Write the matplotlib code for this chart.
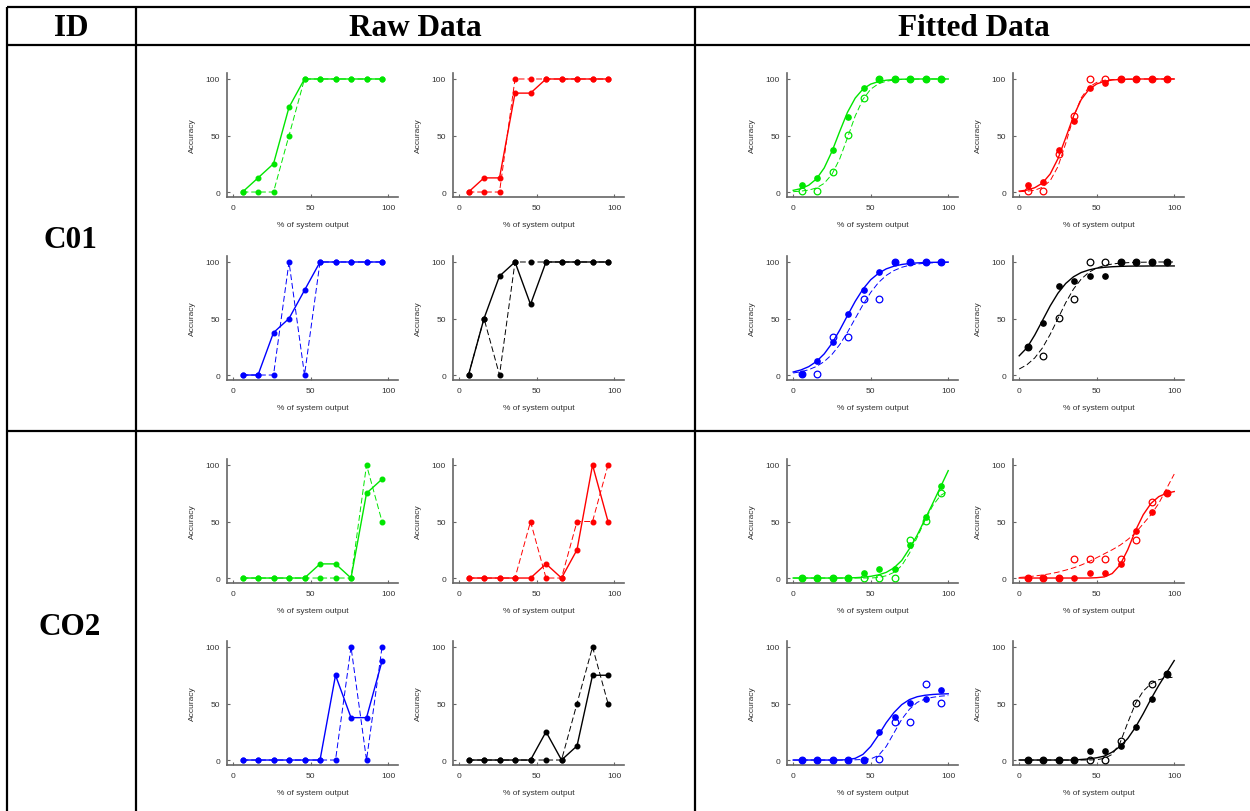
import matplotlib.pyplot as plt

plt.rcParams['font.family'] = ['Liberation Sans', 'DejaVu Sans']

# x positions (% of system output)
raw_x = [6, 16, 26, 36, 46, 56, 66, 76, 86, 96]
fit_x = [5.5, 15.5, 25.5, 35.5, 45.5, 55.5, 65.5, 75.5, 85.5, 95.5]
curve_x = [0, 5, 10, 15, 20, 25, 30, 35, 40, 45, 50, 55, 60, 65, 70, 75, 80, 85, 90, 95, 100]

# ---- C01 raw data ----
c01_green_solid = [0, 12.5, 25, 75, 100, 100, 100, 100, 100, 100]
c01_green_dash = [0, 0, 0, 50, 100, 100, 100, 100, 100, 100]
c01_red_solid = [0, 12.5, 12.5, 87.5, 87.5, 100, 100, 100, 100, 100]
c01_red_dash = [0, 0, 0, 100, 100, 100, 100, 100, 100, 100]
c01_blue_solid = [0, 0, 37.5, 50, 75, 100, 100, 100, 100, 100]
c01_blue_dash = [0, 0, 0, 100, 0, 100, 100, 100, 100, 100]
c01_black_solid = [0, 50, 87.5, 100, 62.5, 100, 100, 100, 100, 100]
c01_black_dash = [0, 50, 0, 100, 100, 100, 100, 100, 100, 100]

# ---- CO2 raw data ----
co2_green_solid = [0, 0, 0, 0, 0, 12.5, 12.5, 0, 75, 87.5]
co2_green_dash = [0, 0, 0, 0, 0, 0, 0, 0, 100, 50]
co2_red_solid = [0, 0, 0, 0, 0, 12.5, 0, 25, 100, 50]
co2_red_dash = [0, 0, 0, 0, 50, 0, 0, 50, 50, 100]
co2_blue_solid = [0, 0, 0, 0, 0, 0, 75, 37.5, 37.5, 87.5]
co2_blue_dash = [0, 0, 0, 0, 0, 0, 0, 100, 0, 100]
co2_black_solid = [0, 0, 0, 0, 0, 25, 0, 12.5, 75, 75]
co2_black_dash = [0, 0, 0, 0, 0, 0, 0, 50, 100, 50]

# ---- C01 fitted: points ----
c01_green_filled = [6.5, 12.6, 37.6, 66.8, 91.8, 100, 100, 100, 100, 100]
c01_green_open = [0.6, 0.6, 17.4, 50.6, 83.5, 100, 100, 100, 100, 100]
c01_red_filled = [6.5, 8.8, 37.6, 62.6, 91.8, 96.2, 100, 100, 100, 100]
c01_red_open = [0.6, 0.6, 34, 67, 100, 100, 100, 100, 100, 100]
c01_blue_filled = [0.6, 12.5, 29, 54, 74.8, 91.4, 100, 100, 100, 100]
c01_blue_open = [0.6, 0.6, 33.8, 33.8, 67, 67, 100, 100, 100, 100]
c01_black_filled = [25.2, 45.7, 79, 83, 87.2, 87.2, 100, 100, 100, 100]
c01_black_open = [25.2, 17.2, 50.4, 67, 100, 100, 100, 100, 100, 100]

# ---- C01 fitted: curves ----
c01_green_fit_s = [1.5, 3.0, 6.0, 11.6, 21.3, 35.9, 53.6, 70.5, 83.1, 91.1, 95.5, 97.7, 98.9, 99.5, 99.8, 99.9, 100, 100, 100, 100, 100]
c01_green_fit_d = [0.3, 0.8, 1.7, 3.6, 7.7, 15.7, 29.3, 48, 67.3, 82, 91, 95.8, 98, 99.1, 99.6, 99.8, 99.9, 100, 100, 100, 100]
c01_red_fit_s = [0.8, 1.7, 3.8, 7.9, 16, 29.5, 48, 67, 81.8, 90.8, 95.6, 98, 99.1, 99.6, 99.8, 99.9, 100, 100, 100, 100, 100]
c01_red_fit_d = [0.3, 0.7, 1.6, 4.2, 10, 22.5, 43, 66, 83.3, 92.9, 97, 98.9, 99.5, 99.8, 99.9, 100, 100, 100, 100, 100, 100]
c01_blue_fit_s = [2.7, 4.5, 7.4, 12, 18.7, 28, 39.7, 52.6, 65.2, 76, 84.3, 90, 93.9, 96.3, 97.8, 98.7, 99.2, 99.5, 99.7, 99.8, 99.9]
c01_blue_fit_d = [1.8, 2.9, 4.7, 7.6, 11.9, 18.2, 26.9, 37.8, 50, 62.2, 73.1, 81.8, 88.1, 92.4, 95.3, 97.1, 98.2, 98.9, 99.3, 99.6, 99.8]
c01_black_fit_s = [17, 24.1, 35.3, 48.2, 61.2, 72.4, 81, 86.9, 90.7, 93, 94.5, 95.3, 95.8, 96.1, 96.3, 96.4, 96.4, 96.5, 96.5, 96.5, 96.5]
c01_black_fit_d = [5.3, 9.1, 15.1, 24, 36, 50, 64, 76, 84.9, 90.9, 94.7, 96.9, 98.2, 99, 99.4, 99.7, 99.8, 99.9, 100, 100, 100]

# ---- CO2 fitted: points ----
co2_green_filled = [0, 0, 0, 0, 4.1, 8.3, 8.3, 29, 54, 81.4]
co2_green_open = [0, 0, 0, 0, 0, 0, 0, 34, 50.3, 75.4]
co2_red_filled = [0, 0, 0, 0, 4.1, 4.1, 12.4, 42, 58.6, 75.4]
co2_red_open = [0, 0, 0, 16.9, 16.9, 16.9, 16.9, 34, 67.2, 75.4]
co2_blue_filled = [0, 0, 0, 0, 0, 25.2, 37.7, 50.4, 54.3, 62.3]
co2_blue_open = [0, 0, 0, 0, 0, 0.6, 33.5, 33.5, 67.4, 50.4]
co2_black_filled = [0, 0, 0, 0, 8.3, 8.3, 12.5, 29, 54.3, 75.7]
co2_black_open = [0, 0, 0, 0, 0, 0, 17, 50.4, 67.4, 75.7]

# ---- CO2 fitted: curves ----
co2_green_fit_s = [0, 0, 0, 0, 0, 0, 0, 0.1, 0.3, 0.7, 1.5, 2.8, 5, 9, 15.5, 26, 38, 52, 66, 80.5, 95]
co2_green_fit_d = [0, 0, 0, 0, 0, 0, 0, 0, 0, 0, 0, 0.5, 2, 5, 11, 22, 36, 51, 64, 73, 77]
co2_red_fit_s = [0, 0, 0, 0, 0, 0, 0, 0, 0, 0, 0.3, 1, 4, 11.5, 25, 42, 56, 66, 72, 75, 76.5]
co2_red_fit_d = [0.5, 1, 1.8, 2.7, 3.8, 5.2, 7, 9, 11.5, 14.5, 18, 21.5, 25, 29, 34, 40, 48, 56, 66, 79, 92]
co2_blue_fit_s = [0, 0, 0, 0, 0, 0, 0, 0.3, 1.5, 5, 12, 22, 33, 42, 49, 53.5, 56, 57.3, 58, 58.4, 58.6]
co2_blue_fit_d = [0, 0, 0, 0, 0, 0, 0, 0, 0.2, 0.5, 1, 4, 12, 24, 36, 45, 51, 54, 55.5, 56.5, 57]
co2_black_fit_s = [0, 0, 0, 0, 0, 0, 0, 0, 0.5, 1, 2, 3.5, 7, 12, 19, 29, 41, 54, 66, 77, 88]
co2_black_fit_d = [0, 0, 0, 0, 0, 0, 0, 0, 0, 0, 0.3, 1.5, 5, 15, 33, 50, 61, 67.5, 71, 72.7, 73.3]

GREEN = '#00e600'
RED = '#ff0000'
BLUE = '#0000ff'
BLACK = '#000000'

W, H = 1250, 812
fig = plt.figure(figsize=(12.5, 8.12), dpi=100)

# table background in pixel coordinates
bg = fig.add_axes([0, 0, 1, 1], zorder=0)
bg.set_xlim(0, W)
bg.set_ylim(H, 0)
bg.axis('off')
lw_tab = 1.6
for y in [8.3, 45.7, 431.7]:
    bg.plot([7.3, W], [y, y], color='black', lw=lw_tab, solid_capstyle='butt')
for x in [7.3, 136, 695]:
    bg.plot([x, x], [8.3, H], color='black', lw=lw_tab, solid_capstyle='butt')

head = dict(family='Liberation Serif', fontweight='bold', fontsize=22.5,
            ha='center', va='center')
bg.text(71, 28, 'ID', **head)
bg.text(415, 28, 'Raw Data', **head)
bg.text(974, 28, 'Fitted Data', **head)
bg.text(70, 240, 'C01', **head)
bg.text(70, 628, 'CO2', **head)


def small_axes(left, bottom):
    ax = fig.add_axes([left / W, (H - bottom) / H, 171 / W, 124 / H], zorder=2)
    ax.patch.set_alpha(0)
    ax.set_xlim(-4, 106.3)
    ax.set_ylim(-4.4, 105.3)
    for s in ['top', 'right']:
        ax.spines[s].set_visible(False)
    for s in ['left', 'bottom']:
        ax.spines[s].set_color('#666666')
        ax.spines[s].set_linewidth(1.2)
    ax.set_xticks([0, 50, 100])
    ax.set_yticks([0, 50, 100])
    ax.tick_params(labelsize=6, labelcolor='#333333', color='#666666',
                   length=2, width=0.8, direction='in', pad=5)
    ax.set_xlabel('% of system output', fontsize=6, color='#333333', labelpad=7)
    ax.set_ylabel('Accuracy', fontsize=6, color='#333333', labelpad=7)
    return ax


def raw_panel(left, bottom, solid, dash, c):
    ax = small_axes(left, bottom)
    ax.plot(raw_x, dash, color=c, lw=0.7, dashes=(6, 3), marker='o', ms=3.3,
            clip_on=False, zorder=3)
    ax.plot(raw_x, solid, color=c, lw=1.0, marker='o', ms=3.3,
            clip_on=False, zorder=4)


def fit_panel(left, bottom, filled, opened, cs, cd, c):
    ax = small_axes(left, bottom)
    ax.plot(curve_x, cd, color=c, lw=0.7, dashes=(6, 3), zorder=3)
    ax.plot(curve_x, cs, color=c, lw=1.0, zorder=3)
    ax.plot(fit_x, opened, ls='none', marker='o', ms=4.8, mfc='none', mec=c,
            mew=0.9, clip_on=False, zorder=4)
    ax.plot(fit_x, filled, ls='none', marker='o', ms=3.8, color=c,
            clip_on=False, zorder=5)


raw_cols = [227, 453]
fit_cols = [787, 1013]
c01_rows = [198, 381]
co2_rows = [584, 766]

# C01 raw
raw_panel(raw_cols[0], c01_rows[0], c01_green_solid, c01_green_dash, GREEN)
raw_panel(raw_cols[1], c01_rows[0], c01_red_solid, c01_red_dash, RED)
raw_panel(raw_cols[0], c01_rows[1], c01_blue_solid, c01_blue_dash, BLUE)
raw_panel(raw_cols[1], c01_rows[1], c01_black_solid, c01_black_dash, BLACK)

# C01 fitted
fit_panel(fit_cols[0], c01_rows[0], c01_green_filled, c01_green_open, c01_green_fit_s, c01_green_fit_d, GREEN)
fit_panel(fit_cols[1], c01_rows[0], c01_red_filled, c01_red_open, c01_red_fit_s, c01_red_fit_d, RED)
fit_panel(fit_cols[0], c01_rows[1], c01_blue_filled, c01_blue_open, c01_blue_fit_s, c01_blue_fit_d, BLUE)
fit_panel(fit_cols[1], c01_rows[1], c01_black_filled, c01_black_open, c01_black_fit_s, c01_black_fit_d, BLACK)

# CO2 raw
raw_panel(raw_cols[0], co2_rows[0], co2_green_solid, co2_green_dash, GREEN)
raw_panel(raw_cols[1], co2_rows[0], co2_red_solid, co2_red_dash, RED)
raw_panel(raw_cols[0], co2_rows[1], co2_blue_solid, co2_blue_dash, BLUE)
raw_panel(raw_cols[1], co2_rows[1], co2_black_solid, co2_black_dash, BLACK)

# CO2 fitted
fit_panel(fit_cols[0], co2_rows[0], co2_green_filled, co2_green_open, co2_green_fit_s, co2_green_fit_d, GREEN)
fit_panel(fit_cols[1], co2_rows[0], co2_red_filled, co2_red_open, co2_red_fit_s, co2_red_fit_d, RED)
fit_panel(fit_cols[0], co2_rows[1], co2_blue_filled, co2_blue_open, co2_blue_fit_s, co2_blue_fit_d, BLUE)
fit_panel(fit_cols[1], co2_rows[1], co2_black_filled, co2_black_open, co2_black_fit_s, co2_black_fit_d, BLACK)

fig.savefig('out.png', dpi=100)
